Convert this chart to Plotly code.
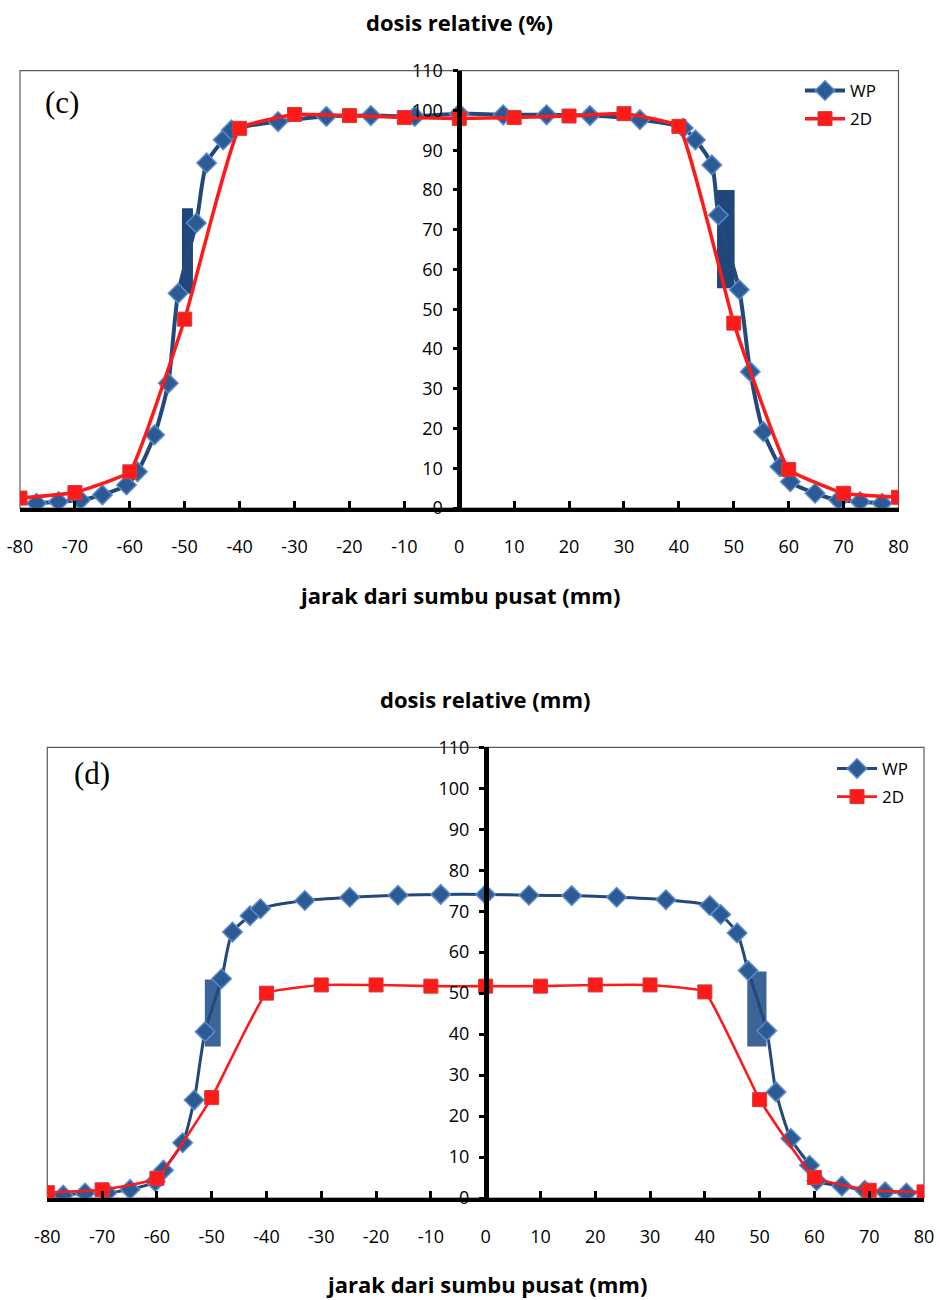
import plotly.graph_objects as go

# ---------------- data ----------------
# Panel (c)
c_wp_x = [-77, -73, -69, -65, -60.6, -58.6, -55.5, -53, -51.2, -47.9, -46, -43, -41.5, -33, -24.2, -16.1, -8.1, 0,
          8, 15.9, 23.8, 32.9, 40.8, 43, 46, 47.2, 51, 53, 55.4, 58.4, 60.3, 64.8, 69.1, 73, 77]
c_wp_y = [1.2, 1.6, 2.0, 3.3, 5.8, 9.1, 18.4, 31.4, 54.0, 71.7, 86.8, 92.6, 95.1, 97.2, 98.5, 98.7, 98.5, 99.2,
          98.9, 98.9, 98.7, 97.7, 95.6, 92.6, 86.3, 73.7, 54.9, 34.3, 19.2, 10.4, 6.6, 3.7, 2.0, 1.6, 1.2]
c_2d_x = [-80, -70, -60, -50, -40, -30, -20, -10, 0, 10, 20, 30, 40, 50, 60, 70, 80]
c_2d_y = [2.5, 3.9, 9.1, 47.5, 95.5, 99.0, 98.7, 98.2, 98.0, 98.2, 98.6, 99.2, 96.0, 46.5, 9.7, 3.7, 2.7]
c_blk_x = [-49.5, 48.55]
c_blk_lo = [53.9, 55.3]
c_blk_hi = [75.4, 80.0]
c_blk_w = [2.0, 3.2]

# Panel (d)
d_wp_x = [-77.1, -73.1, -69.1, -64.9, -60.3, -58.8, -55.3, -53.2, -51.2, -48.2, -46.2, -43, -41.1, -33, -24.8, -16,
          -8.2, 0, 7.9, 15.7, 23.9, 32.9, 40.9, 42.9, 45.9, 47.9, 51.3, 53, 55.7, 59.1, 60.4, 65, 69.2, 72.9, 76.8]
d_wp_y = [0.7, 1.2, 1.3, 2.1, 4.0, 6.8, 13.5, 23.9, 40.6, 53.5, 64.9, 68.9, 70.6, 72.6, 73.4, 73.9,
          74.1, 74.1, 73.9, 73.8, 73.4, 72.8, 71.4, 69.2, 64.7, 55.5, 40.8, 25.9, 14.5, 8.0, 4.2, 2.9, 1.9, 1.5, 1.2]
d_2d_x = [-80, -70, -60, -50, -40, -30, -20, -10, 0, 10, 20, 30, 40, 50, 60, 70, 80]
d_2d_y = [1.3, 2.0, 4.8, 24.5, 50.0, 52.0, 52.0, 51.7, 51.7, 51.7, 52.0, 52.0, 50.3, 24.0, 5.0, 1.9, 1.5]
d_blk_x = [-49.8, 49.5]
d_blk_lo = [37.0, 37.0]
d_blk_hi = [53.3, 55.3]
d_blk_w = [2.9, 3.5]

x_ticks = list(range(-80, 81, 10))
x_ticktext = [str(v) for v in x_ticks]          # plain hyphen minus, as in the original
y_ticks = list(range(0, 111, 10))

title_c = "dosis relative (%)"
title_d = "dosis relative (mm)"
xtitle = "jarak dari sumbu pusat (mm)"

# ---------------- styling ----------------
W, H = 940, 1300
FONT = "'Open Sans', sans-serif"
BLUE_LINE = "#23497C"
BLUE_FILL = "#2C5A93"
BLUE_EDGE = "#5A8ACB"
RED = "#FF1A1A"
RED_EDGE = "#D23B3B"

fig = go.Figure()

def add_panel(xa, ya, wpx, wpy, dx, dy, bx, blo, bhi, bw, bcol, legend, lw_blue, lw_red):
    fig.add_trace(go.Bar(x=bx, y=[h - l for h, l in zip(bhi, blo)], base=blo, width=bw,
                         marker=dict(color=bcol, line=dict(width=0)), showlegend=False,
                         xaxis=xa, yaxis=ya, hoverinfo="skip"))
    fig.add_trace(go.Scatter(x=wpx, y=wpy, mode="lines+markers", name="WP", legendgroup=legend + "wp",
                             line=dict(color=BLUE_LINE, width=lw_blue, shape="spline", smoothing=0.7),
                             marker=dict(symbol="diamond", size=15, color=BLUE_FILL,
                                         line=dict(color=BLUE_EDGE, width=1.5)),
                             xaxis=xa, yaxis=ya, legend=legend))
    fig.add_trace(go.Scatter(x=dx, y=dy, mode="lines+markers", name="2D", legendgroup=legend + "2d",
                             line=dict(color=RED, width=lw_red, shape="spline", smoothing=0.3),
                             marker=dict(symbol="square", size=14, color=RED,
                                         line=dict(color=RED_EDGE, width=1)),
                             xaxis=xa, yaxis=ya, legend=legend))

add_panel("x", "y", c_wp_x, c_wp_y, c_2d_x, c_2d_y, c_blk_x, c_blk_lo, c_blk_hi, c_blk_w,
          "#1F477A", "legend", 4, 3.5)
add_panel("x2", "y2", d_wp_x, d_wp_y, d_2d_x, d_2d_y, d_blk_x, d_blk_lo, d_blk_hi, d_blk_w,
          "#3D6496", "legend2", 3, 2.6)

# panel geometry (pixels)
c_left, c_right, c_top, c_bot = 20, 898.5, 70.7, 508
d_left, d_right, d_top, d_bot = 47.3, 924, 747.3, 1198

def xax(left, right, anchor):
    return dict(domain=[left / W, right / W], range=[-80, 80], tickvals=x_ticks, ticktext=x_ticktext,
                showgrid=False, zeroline=False, showline=True, linewidth=4, linecolor="black",
                ticks="inside", ticklen=7, tickwidth=2.5, tickcolor="black", automargin=False,
                ticklabelstandoff=19, tickfont=dict(family=FONT, size=18, color="black"),
                anchor=anchor, fixedrange=True)

def yax(top, bot, pos):
    return dict(domain=[1 - bot / H, 1 - top / H], range=[0, 110], tickvals=y_ticks,
                showgrid=False, zeroline=False, showline=True, linewidth=4.5, linecolor="black",
                ticks="outside", ticklen=5, tickwidth=2.5, tickcolor="black", automargin=False,
                ticklabelstandoff=6, tickfont=dict(family=FONT, size=18, color="black"),
                anchor="free", position=pos, fixedrange=True)

def ycross(top, bot, pos, over):
    # mirrored tick marks on the right side of the centre axis (cross-style ticks)
    return dict(domain=[1 - bot / H, 1 - top / H], range=[0, 110], tickvals=y_ticks,
                showgrid=False, zeroline=False, showline=False, showticklabels=False,
                ticks="outside", ticklen=5, tickwidth=2.5, tickcolor="black", automargin=False,
                anchor="free", position=pos, side="right", overlaying=over, fixedrange=True)

leg_common = dict(xanchor="left", yanchor="top", bgcolor="rgba(0,0,0,0)",
                  font=dict(family=FONT, size=17, color="black"), tracegroupgap=3, itemwidth=40)

c_pos = ((c_left + c_right) / 2) / W
d_pos = ((d_left + d_right) / 2) / W

fig.update_layout(
    width=W, height=H, margin=dict(l=0, r=0, t=0, b=0, autoexpand=False),
    paper_bgcolor="white", plot_bgcolor="rgba(0,0,0,0)",
    barmode="overlay", showlegend=True,
    xaxis=xax(c_left, c_right, "y"),
    yaxis=yax(c_top, c_bot, c_pos),
    xaxis2=xax(d_left, d_right, "y2"),
    yaxis2=yax(d_top, d_bot, d_pos),
    yaxis3=ycross(c_top, c_bot, c_pos + 2.2 / W, "y"),
    yaxis4=ycross(d_top, d_bot, d_pos + 2.2 / W, "y2"),
    legend=dict(x=800 / W, y=1 - 73 / H, **leg_common),
    legend2=dict(x=832 / W, y=1 - 751 / H, **leg_common),
)

# plot-area borders
for xr, yr in (("x", "y"), ("x2", "y2")):
    fig.add_shape(type="rect", xref=f"{xr} domain", yref=f"{yr} domain", x0=0, x1=1, y0=0, y1=1,
                  line=dict(color="#5A5A5A", width=1.2), layer="below")

ann_font = dict(family=FONT, size=22, color="black")
fig.add_annotation(text=f"<b>{title_c}</b>", x=459 / W, y=1 - 22 / H, xref="paper", yref="paper",
                   showarrow=False, font=ann_font, xanchor="center", yanchor="middle")
fig.add_annotation(text=f"<b>{xtitle}</b>", x=459 / W, y=1 - 595 / H, xref="paper", yref="paper",
                   showarrow=False, font=ann_font, xanchor="center", yanchor="middle")
fig.add_annotation(text=f"<b>{title_d}</b>", x=485 / W, y=1 - 699 / H, xref="paper", yref="paper",
                   showarrow=False, font=ann_font, xanchor="center", yanchor="middle")
fig.add_annotation(text=f"<b>{xtitle}</b>", x=486 / W, y=1 - 1284 / H, xref="paper", yref="paper",
                   showarrow=False, font=ann_font, xanchor="center", yanchor="middle")
serif = dict(family="'Liberation Serif', 'Times New Roman', serif", size=31, color="black")
fig.add_annotation(text="(c)", x=62 / W, y=1 - 103 / H, xref="paper", yref="paper",
                   showarrow=False, font=serif, xanchor="center", yanchor="middle")
fig.add_annotation(text="(d)", x=92 / W, y=1 - 773 / H, xref="paper", yref="paper",
                   showarrow=False, font=serif, xanchor="center", yanchor="middle")

fig.write_html("out.html")
